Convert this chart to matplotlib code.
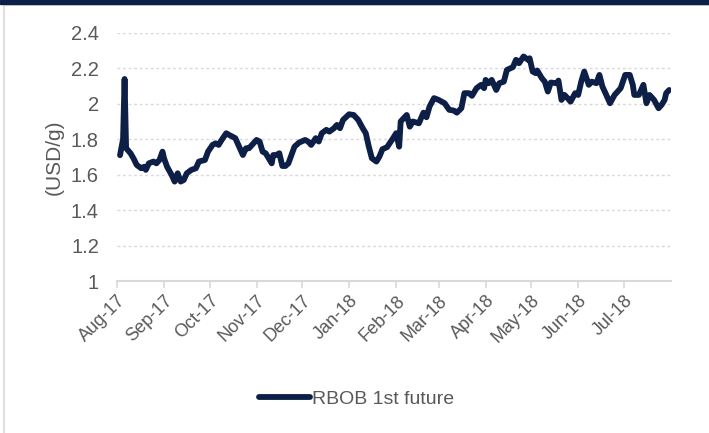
import numpy as np
import pandas as pd
import matplotlib
matplotlib.use('Agg')
import matplotlib.pyplot as plt
import matplotlib.dates as mdates
from matplotlib.patches import Rectangle
from matplotlib.lines import Line2D

# RBOB 1st future, USD/gallon
dates = [
    '2017-08-03', '2017-08-05', '2017-08-06', '2017-08-07', '2017-08-10', '2017-08-12',
    '2017-08-14', '2017-08-17', '2017-08-19', '2017-08-20', '2017-08-22', '2017-08-25',
    '2017-08-27', '2017-08-29', '2017-08-31', '2017-09-01', '2017-09-03', '2017-09-06',
    '2017-09-08', '2017-09-10', '2017-09-12', '2017-09-14', '2017-09-16', '2017-09-19',
    '2017-09-22', '2017-09-24', '2017-09-28', '2017-09-30', '2017-10-03', '2017-10-05',
    '2017-10-07', '2017-10-09', '2017-10-12', '2017-10-14', '2017-10-18', '2017-10-20',
    '2017-10-23', '2017-10-25', '2017-10-27', '2017-10-30', '2017-11-01', '2017-11-03',
    '2017-11-05', '2017-11-07', '2017-11-09', '2017-11-11', '2017-11-12', '2017-11-14',
    '2017-11-16', '2017-11-18', '2017-11-20', '2017-11-22', '2017-11-24', '2017-11-26',
    '2017-11-29', '2017-12-03', '2017-12-05', '2017-12-07', '2017-12-10', '2017-12-12',
    '2017-12-14', '2017-12-17', '2017-12-19', '2017-12-22', '2017-12-24', '2017-12-26',
    '2017-12-28', '2018-01-01', '2018-01-04', '2018-01-07', '2018-01-10', '2018-01-12',
    '2018-01-14', '2018-01-16', '2018-01-19', '2018-01-21', '2018-01-23', '2018-01-26',
    '2018-01-30', '2018-02-01', '2018-02-03', '2018-02-04', '2018-02-06', '2018-02-08',
    '2018-02-10', '2018-02-12', '2018-02-16', '2018-02-19', '2018-02-21', '2018-02-23',
    '2018-02-26', '2018-03-01', '2018-03-05', '2018-03-08', '2018-03-11', '2018-03-13',
    '2018-03-16', '2018-03-18', '2018-03-21', '2018-03-23', '2018-03-26', '2018-03-29',
    '2018-03-31', '2018-04-01', '2018-04-03', '2018-04-05', '2018-04-08', '2018-04-10',
    '2018-04-13', '2018-04-15', '2018-04-19', '2018-04-21', '2018-04-23', '2018-04-26',
    '2018-04-29', '2018-04-30', '2018-05-02', '2018-05-04', '2018-05-05', '2018-05-08',
    '2018-05-10', '2018-05-12', '2018-05-14', '2018-05-18', '2018-05-19', '2018-05-21',
    '2018-05-23', '2018-05-25', '2018-05-27', '2018-05-30', '2018-06-01', '2018-06-03',
    '2018-06-05', '2018-06-08', '2018-06-10', '2018-06-13', '2018-06-15', '2018-06-17',
    '2018-06-19', '2018-06-22', '2018-06-25', '2018-06-27', '2018-06-29', '2018-07-02',
    '2018-07-05', '2018-07-07', '2018-07-08', '2018-07-11', '2018-07-14', '2018-07-16',
    '2018-07-18', '2018-07-21', '2018-07-24', '2018-07-26', '2018-07-28', '2018-07-29',
    '2018-07-31',
]
prices = [
    1.71, 1.80, 2.14, 1.75, 1.72, 1.69,
    1.655, 1.636, 1.645, 1.627, 1.664, 1.674,
    1.664, 1.683, 1.730, 1.693, 1.645, 1.599,
    1.561, 1.608, 1.561, 1.570, 1.608, 1.627,
    1.636, 1.674, 1.683, 1.730, 1.768, 1.777,
    1.768, 1.796, 1.834, 1.824, 1.806, 1.768,
    1.711, 1.749, 1.749, 1.777, 1.796, 1.787,
    1.730, 1.721, 1.693, 1.664, 1.711, 1.711,
    1.721, 1.649, 1.649, 1.664, 1.711, 1.758,
    1.781, 1.796, 1.787, 1.768, 1.806, 1.787,
    1.834, 1.853, 1.843, 1.862, 1.881, 1.862,
    1.909, 1.941, 1.937, 1.909, 1.862, 1.834,
    1.758, 1.693, 1.674, 1.702, 1.744, 1.755,
    1.806, 1.834, 1.758, 1.900, 1.919, 1.937,
    1.871, 1.900, 1.890, 1.950, 1.924, 1.984,
    2.032, 2.022, 2.003, 1.966, 1.962, 1.950,
    1.975, 2.060, 2.060, 2.045, 2.088, 2.107,
    2.088, 2.135, 2.116, 2.135, 2.078, 2.116,
    2.125, 2.191, 2.207, 2.248, 2.229, 2.267,
    2.248, 2.257, 2.182, 2.173, 2.188, 2.145,
    2.125, 2.069, 2.120, 2.116, 2.131, 2.022,
    2.050, 2.032, 2.012, 2.060, 2.050, 2.125,
    2.182, 2.107, 2.125, 2.116, 2.163, 2.097,
    2.060, 2.003, 2.050, 2.069, 2.088, 2.163,
    2.163, 2.107, 2.050, 2.050, 2.107, 2.003,
    2.050, 2.022, 1.975, 1.994, 2.022, 2.060,
    2.078,
]
series_name = 'RBOB 1st future'
y_label = '(USD/g)'
y_ticks = [1, 1.2, 1.4, 1.6, 1.8, 2, 2.2, 2.4]

NAVY = '#0E1F47'
GRID = '#D9D9D9'
TEXT = '#595959'

plt.rcParams['font.family'] = ['Liberation Sans', 'DejaVu Sans']


def main():
    x = pd.to_datetime(dates)

    fig = plt.figure(figsize=(7.09, 4.33), dpi=100)
    ax = fig.add_axes([0.165, 0.351, 0.781, 0.573])

    ax.plot(x, prices, color=NAVY, lw=4.2, solid_joinstyle='round',
            solid_capstyle='round')

    ax.set_ylim(1, 2.4)
    ax.set_yticks(y_ticks)
    ax.set_yticklabels(['%g' % t for t in y_ticks])
    ax.set_xlim(pd.Timestamp('2017-08-01'), pd.Timestamp('2018-08-01'))
    ax.xaxis.set_major_locator(mdates.MonthLocator(bymonthday=1))
    # last tick (Aug-18) sits at the axis end and has no label
    ticks = ax.get_xticks()[:-1]
    ax.set_xticks(ticks)
    ax.set_xticklabels([mdates.num2date(t).strftime('%b-%y') for t in ticks])

    ax.grid(axis='y', color=GRID, lw=1, ls=(0, (2, 2)))
    ax.set_axisbelow(True)
    for side in ['top', 'right', 'left']:
        ax.spines[side].set_visible(False)
    ax.spines['bottom'].set_color(GRID)
    ax.spines['bottom'].set_linewidth(1.5)

    ax.tick_params(axis='y', length=0, pad=13, labelsize=14.5, labelcolor=TEXT)
    ax.tick_params(axis='x', length=5, width=1.2, color=GRID, pad=3,
                   labelsize=13, labelcolor=TEXT)
    for lab in ax.get_xticklabels():
        lab.set_rotation(45)
        lab.set_ha('right')
        lab.set_rotation_mode('anchor')

    ax.set_ylabel(y_label, fontsize=15, color=TEXT, labelpad=5)

    handle = Line2D([], [], color=NAVY, lw=4.2, solid_capstyle='round')
    fig.legend([handle], [series_name], loc='center', bbox_to_anchor=(0.503, 0.079),
               frameon=False, fontsize=14, handlelength=2.6, handletextpad=0.1,
               labelcolor=TEXT)

    # frame decorations: navy band on top, thin grey borders
    fig.patches.append(Rectangle((0, 1 - 3.5 / 433), 1, 3.5 / 433, transform=fig.transFigure,
                                 color=NAVY, zorder=5))
    fig.lines.append(Line2D([0.005, 1], [1 - 4.5 / 433] * 2, transform=fig.transFigure,
                            color='#E0E0E0', lw=1.2))
    fig.lines.append(Line2D([4 / 709] * 2, [0, 1 - 5 / 433], transform=fig.transFigure,
                            color='#E0E0E0', lw=1.5))

    fig.savefig('out.png', dpi=100)


if __name__ == '__main__':
    main()
